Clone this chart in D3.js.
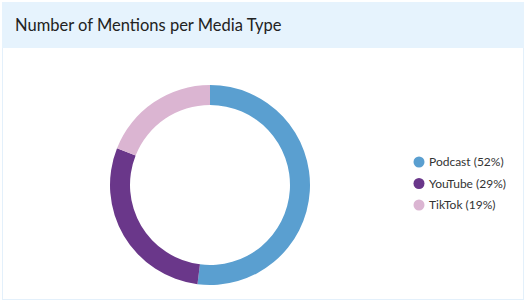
<!DOCTYPE html>
<html>
<head>
<meta charset="utf-8">
<script src="https://cdn.jsdelivr.net/npm/d3@7"></script>
<style>
  body { margin: 0; background: #fff; font-family: Lato, "Noto Sans", sans-serif; }
</style>
</head>
<body>
<div id="chart"></div>
<script>
const categories = ["Podcast", "YouTube", "TikTok"];
const shares = [52, 29, 19];
const colors = ["#5a9fd0", "#6a378a", "#dbb5d2"];

const width = 527, height = 302;
const svg = d3.select("#chart").append("svg")
  .attr("width", width)
  .attr("height", height);

// card + header band
svg.append("rect")
  .attr("x", 2.5).attr("y", 2.5)
  .attr("width", 521).attr("height", 297)
  .attr("fill", "#fff")
  .attr("stroke", "#e3f0fb");

svg.append("rect")
  .attr("x", 2).attr("y", 2)
  .attr("width", 522).attr("height", 46)
  .attr("fill", "#e6f3fd");

svg.append("text")
  .attr("x", 15)
  .attr("y", 31)
  .attr("font-size", "16.5px")
  .attr("fill", "#222")
  .text("Number of Mentions per Media Type");

// donut
const data = categories.map((c, i) => ({ label: c, value: shares[i] }));
const color = d3.scaleOrdinal().domain(categories).range(colors);

const pie = d3.pie().value(d => d.value).sort(null);
const arc = d3.arc().innerRadius(80).outerRadius(100);

const g = svg.append("g").attr("transform", "translate(210,185)");
g.selectAll("path")
  .data(pie(data))
  .join("path")
  .attr("d", arc)
  .attr("fill", d => color(d.data.label));

// legend
const legend = svg.append("g").attr("transform", "translate(419,162)");
const item = legend.selectAll("g")
  .data(data)
  .join("g")
  .attr("transform", (d, i) => `translate(0, ${i * 21.5})`);

item.append("circle")
  .attr("r", 5.5)
  .attr("fill", d => color(d.label));

item.append("text")
  .attr("x", 10)
  .attr("dy", "0.35em")
  .attr("font-size", "12px")
  .attr("fill", "#333")
  .text(d => `${d.label} (${d.value}%)`);
</script>
</body>
</html>
